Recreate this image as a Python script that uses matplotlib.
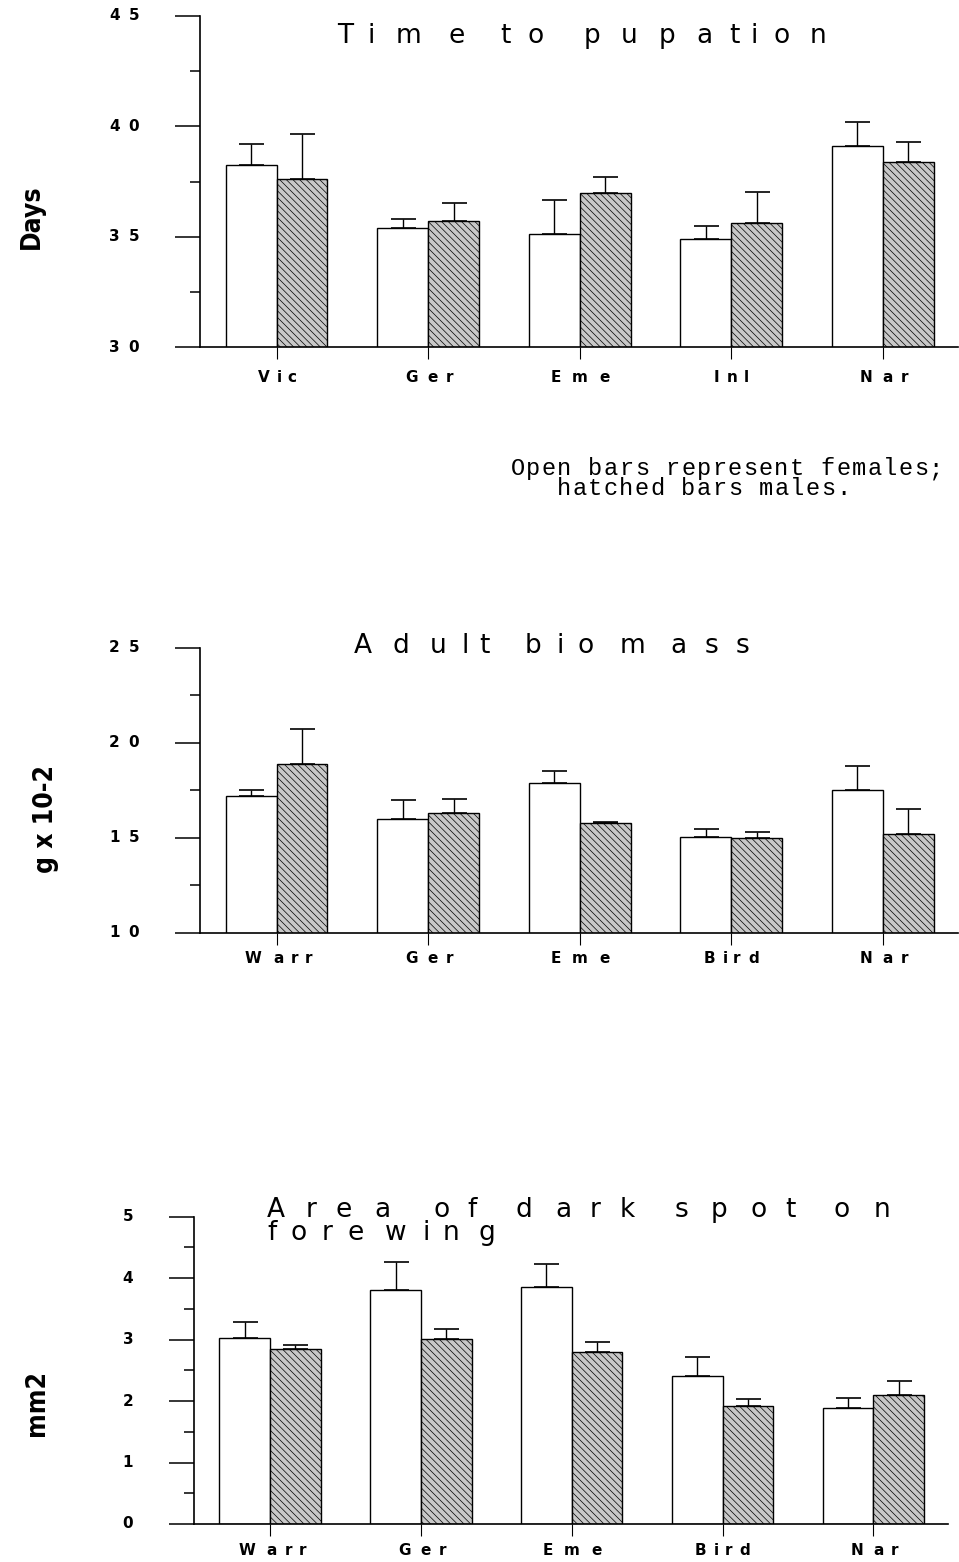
import numpy as np
import matplotlib
matplotlib.use("Agg")
import matplotlib.pyplot as plt
from matplotlib.font_manager import FontProperties, findfont, fontManager
from matplotlib.ft2font import FT2Font
from matplotlib.transforms import offset_copy

W, H, DPI = 959, 1562, 100

# --- data (means and upper error bars) ---
pupa_sites = ['Vic', 'Ger', 'Eme', 'Inl', 'Nar']
pupa_female = [38.25, 35.4, 35.1, 34.9, 39.1]
pupa_female_err = [0.96, 0.4, 1.58, 0.6, 1.08]
pupa_male = [37.6, 35.7, 37.0, 35.6, 38.4]
pupa_male_err = [2.04, 0.83, 0.72, 1.41, 0.9]

mass_sites = ['Warr', 'Ger', 'Eme', 'Bird', 'Nar']
mass_female = [17.2, 16.0, 17.9, 15.05, 17.5]
mass_female_err = [0.3, 1.0, 0.63, 0.4, 1.28]
mass_male = [18.9, 16.3, 15.8, 15.0, 15.2]
mass_male_err = [1.84, 0.76, 0.05, 0.3, 1.32]

spot_sites = ['Warr', 'Ger', 'Eme', 'Bird', 'Nar']
spot_female = [3.02, 3.81, 3.86, 2.41, 1.89]
spot_female_err = [0.26, 0.45, 0.37, 0.30, 0.16]
spot_male = [2.84, 3.01, 2.80, 1.92, 2.10]
spot_male_err = [0.07, 0.16, 0.16, 0.11, 0.22]

plt.rcParams['hatch.linewidth'] = 0.5
plt.rcParams['hatch.color'] = '#404040'

_fonts = {}


def advances(s, prop):
    # advance widths (points) of each character
    path = findfont(prop)
    if path not in _fonts:
        _fonts[path] = FT2Font(path)
    font = _fonts[path]
    font.set_size(prop.get_size_in_points(), 72)
    return [font.load_char(ord(c)).linearHoriAdvance / 65536 for c in s]


def fit_stretch(s, prop, ink_px):
    adv = advances(s, prop)
    m = (adv[0] + adv[-1]) / 2
    ink = ink_px * 72 / DPI
    return (ink - m) / (sum(adv) - m)


def wide_text(owner, x, y, s, transform, prop, stretch, ha='left',
              va='baseline', dx=0, dy=0):
    # the original plotter font is very wide; spread the letters out
    adv = [a * stretch for a in advances(s, prop)]
    total = sum(adv)
    pos = {'left': 0, 'center': -total / 2, 'right': -total}[ha] + dx
    for c, a in zip(s, adv):
        if c != ' ':
            tr = offset_copy(transform, fig=fig, x=pos + a / 2, y=dy, units='points')
            owner.text(x, y, c, transform=tr, ha='center', va=va,
                       fontproperties=prop)
        pos += a


def narrow_font(size):
    # look for any condensed / narrow face for the tall y labels
    cands = [f for f in fontManager.ttflist
             if 'narrow' in f.name.lower() or 'condensed' in f.name.lower()
             or str(f.stretch) in ('condensed', 'semi-condensed', 'extra-condensed')]
    cands.sort(key=lambda f: (f.weight not in ('bold', 700), f.style != 'normal'))
    if cands:
        return FontProperties(fname=cands[0].fname, size=size)
    return FontProperties(family='DejaVu Sans', size=size - 3, weight='bold')


fig = plt.figure(figsize=(W / DPI, H / DPI), dpi=DPI)

tick_prop = FontProperties(family='DejaVu Sans', size=11, weight='bold')
title_prop = FontProperties(family='DejaVu Sans', size=19)
TICK_STRETCH = 1.85


def panel(rect, sites, fem, fem_err, mal, mal_err, ylim, major, minor, xlab_dy):
    ax = fig.add_axes(rect)
    x = np.arange(len(sites))
    w = 0.336
    ax.bar(x - w / 2, fem, w, color='white', edgecolor='black', linewidth=1)
    ax.bar(x + w / 2, mal, w, color='#c8c8c8', edgecolor='black', linewidth=1,
           hatch='\\\\\\\\\\')
    ax.errorbar(x - w / 2, fem, yerr=[np.zeros(len(x)), fem_err], fmt='none',
                ecolor='black', elinewidth=1, capsize=9, capthick=1.2)
    ax.errorbar(x + w / 2, mal, yerr=[np.zeros(len(x)), mal_err], fmt='none',
                ecolor='black', elinewidth=1, capsize=9, capthick=1.2)
    ax.set_xlim(-0.505, 4.495)
    ax.set_ylim(*ylim)
    for sp in ['top', 'right']:
        ax.spines[sp].set_visible(False)
    for sp in ['left', 'bottom']:
        ax.spines[sp].set_linewidth(1.2)
    ax.set_yticks(major)
    ax.set_yticks(minor, minor=True)
    ax.set_xticks(x)
    ax.tick_params(axis='y', which='major', length=18, width=1.1, labelleft=False)
    ax.tick_params(axis='y', which='minor', length=7.5, width=1.1)
    ax.tick_params(axis='x', length=8.6, width=0.8, labelbottom=False)
    for v in major:
        wide_text(ax, 0, v, '%g' % v, ax.get_yaxis_transform(), tick_prop,
                  TICK_STRETCH, ha='right', va='center', dx=-40.5)
    for i, s in enumerate(sites):
        wide_text(ax, i, 0, s, ax.get_xaxis_transform(), tick_prop,
                  TICK_STRETCH, ha='center', va='center', dy=xlab_dy)
    return ax


panel([200 / W, 1 - 347 / H, 758 / W, 331 / H], pupa_sites,
      pupa_female, pupa_female_err, pupa_male, pupa_male_err,
      (30, 45), [30, 35, 40, 45], [32.5, 37.5, 42.5], -21.6)
panel([200 / W, 1 - 932.7 / H, 758 / W, 285 / H], mass_sites,
      mass_female, mass_female_err, mass_male, mass_male_err,
      (10, 25), [10, 15, 20, 25], [12.5, 17.5, 22.5], -18.7)
panel([194 / W, 1 - 1524 / H, 754 / W, 307.3 / H], spot_sites,
      spot_female, spot_female_err, spot_male, spot_male_err,
      (0, 5), [0, 1, 2, 3, 4, 5], [0.5, 1.5, 2.5, 3.5, 4.5], -19.4)

# titles (pixel positions of ink extents in the original)
titles = [
    ('Time to pupation', 337, 827, 43, 'center'),
    ('Adult biomass', 352, 748, 653, 'center'),
    ('Area of dark spot on', 267, 890, 1217, 'left'),
    ('forewing', 267, 495, 1240, 'left'),
]
for s, x0, x1, base, ha in titles:
    k = fit_stretch(s, title_prop, x1 - x0)
    if ha == 'center':
        wide_text(fig, (x0 + x1) / 2 / W, 1 - base / H, s, fig.transFigure,
                  title_prop, k, ha='center')
    else:
        first = advances(s, title_prop)[0] * (k - 1) / 2 * DPI / 72
        wide_text(fig, (x0 - first) / W, 1 - base / H, s, fig.transFigure,
                  title_prop, k, ha='left')

# y-axis labels, tall condensed lettering
ylab_prop = narrow_font(19)
ylab = dict(rotation=90, ha='center', va='center', fontproperties=ylab_prop)
fig.text(32 / W, 1 - 217 / H, 'Days', **ylab)
fig.text(46 / W, 1 - 819 / H, 'g x 10-2', **ylab)
fig.text(37 / W, 1 - 1403 / H, 'mm2', **ylab)

# typed note
note_prop = FontProperties(family='Liberation Mono', size=17)
k_note = 15.5 / (advances('O', note_prop)[0] * DPI / 72)
wide_text(fig, 510 / W, 1 - 475 / H, 'Open bars represent females;',
          fig.transFigure, note_prop, k_note)
wide_text(fig, 510 / W, 1 - 495 / H, '   hatched bars males.',
          fig.transFigure, note_prop, k_note)

fig.savefig('out.png', dpi=DPI)
